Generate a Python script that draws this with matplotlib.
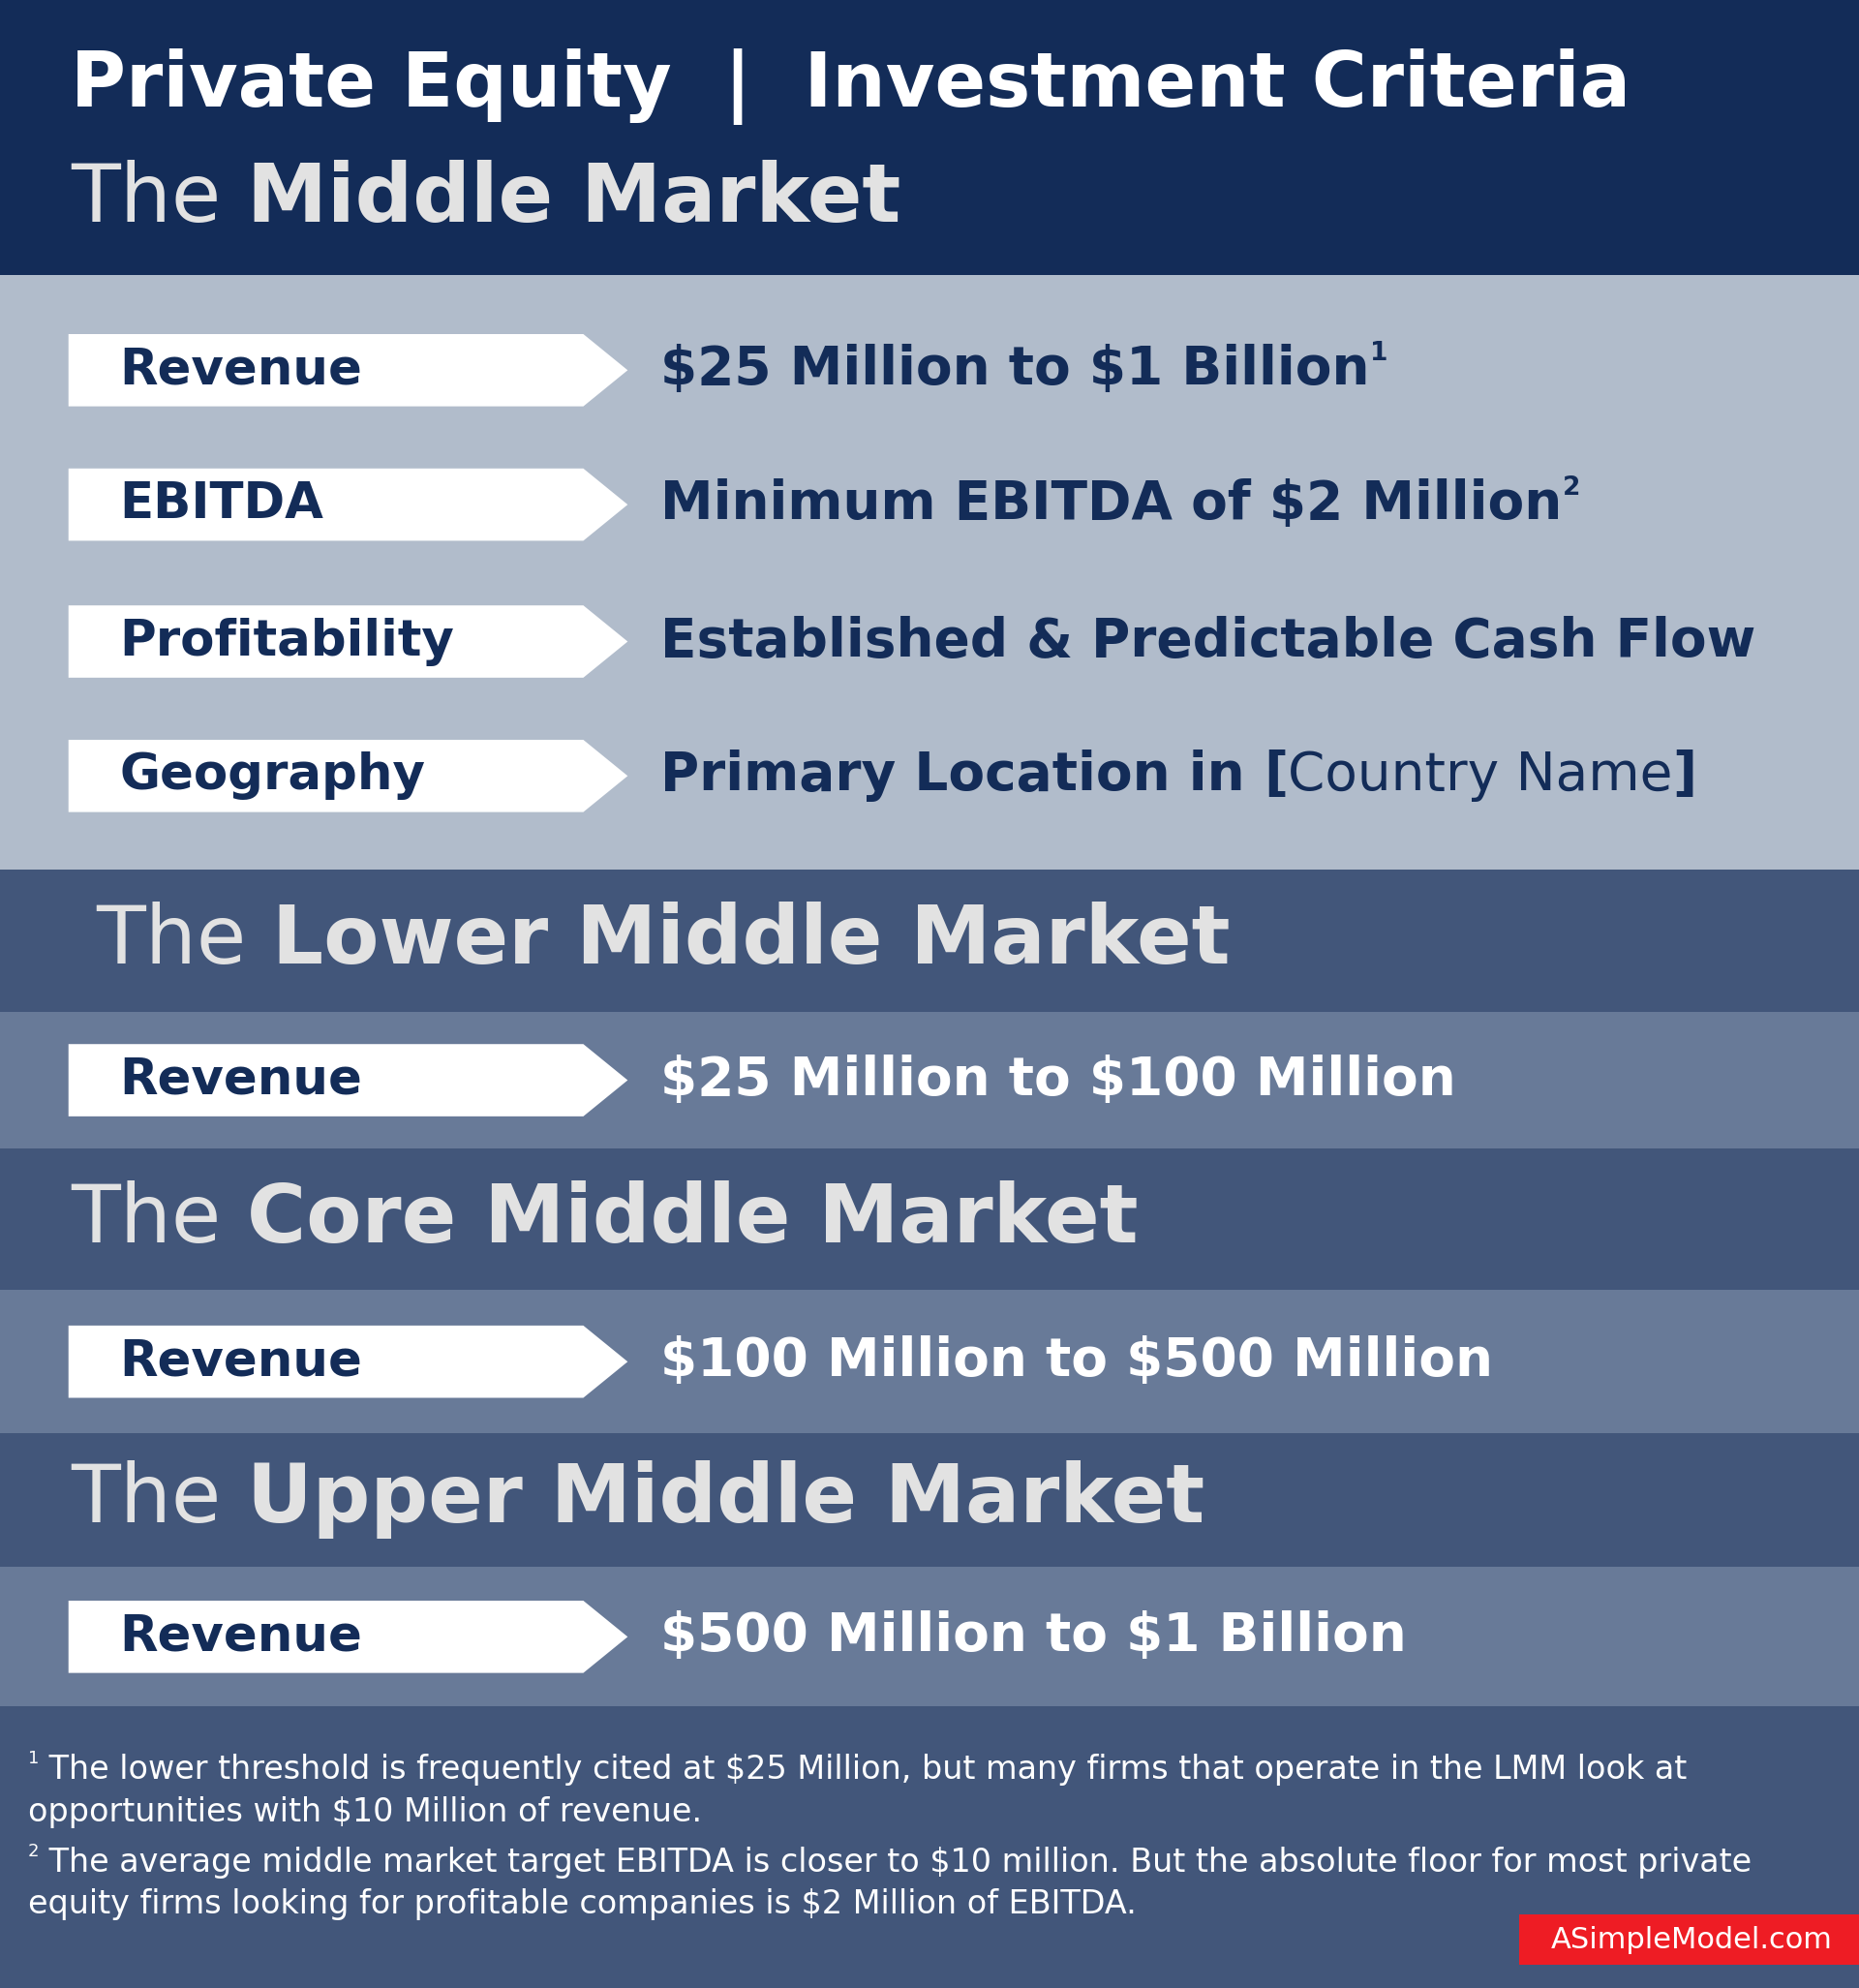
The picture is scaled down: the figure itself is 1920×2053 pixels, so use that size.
import matplotlib
matplotlib.use("Agg")
import matplotlib.pyplot as plt
from matplotlib.patches import Rectangle, Polygon
plt.rcParams["text.parse_math"] = False

W, H = 1466, 1568
FONT = "DejaVu Sans"
NAVY = "#132c58"
LIGHT = "#b1bccb"
MID = "#42567a"
ROWC = "#687a98"
TITLEC = "#e2e2e2"

mm_labels = ["Revenue", "EBITDA", "Profitability", "Geography"]
mm_values = ["$25 Million to $1 Billion", "Minimum EBITDA of $2 Million",
             "Established & Predictable Cash Flow", "Primary Location in "]
mm_sups = ["1", "2", "", ""]
seg_titles = ["Lower Middle Market", "Core Middle Market", "Upper Middle Market"]
seg_values = ["$25 Million to $100 Million", "$100 Million to $500 Million",
              "$500 Million to $1 Billion"]
footnotes = [("1", "The lower threshold is frequently cited at $25 Million, but many firms that operate in the LMM look at",
              "opportunities with $10 Million of revenue."),
             ("2", "The average middle market target EBITDA is closer to $10 million. But the absolute floor for most private",
              "equity firms looking for profitable companies is $2 Million of EBITDA.")]

fig = plt.figure(figsize=(19.2, 20.53), dpi=100)
ax = fig.add_axes([0, 0, 1, 1])
ax.set_xlim(0, W); ax.set_ylim(H, 0); ax.axis("off")
fig.canvas.draw()
R = fig.canvas.get_renderer()

def band(y0, y1, c):
    ax.add_patch(Rectangle((0, y0), W, y1 - y0, color=c, lw=0))

def seq(x, y, parts, va="center"):
    for t, s, w, c, dy in parts:
        tx = ax.text(x, y + dy, t, fontsize=s, fontweight=w, color=c, family=FONT, va=va, ha="left")
        bb = tx.get_window_extent(R)
        x += bb.width * W / fig.bbox.width
    return x

VS = 39.5
def arrow(yc, label, value, vcolor, sup=""):
    h = 57
    ax.add_patch(Polygon([(54, yc - h/2), (460, yc - h/2), (495, yc), (460, yc + h/2), (54, yc + h/2)],
                         closed=True, color="white", lw=0))
    ax.text(94, yc, label, fontsize=37, fontweight="bold", color=NAVY, family=FONT, va="center")
    parts = [(value, VS, "bold", vcolor, 0)]
    if sup:
        parts.append((sup, 19, "bold", vcolor, -13))
    return seq(521, yc, parts)

band(0, 217, NAVY)
band(217, 686, LIGHT)
band(686, 798, MID); band(798, 906, ROWC)
band(906, 1017, MID); band(1017, 1130, ROWC)
band(1130, 1236, MID); band(1236, 1346, ROWC)
band(1346, H, MID)

ax.text(56, 68, "Private Equity  |  Investment Criteria", fontsize=56, fontweight="bold",
        color="white", family=FONT, va="center")
seq(56, 157, [("The ", 60, "normal", TITLEC, 0), ("Middle Market", 60, "bold", TITLEC, 0)])

ycs = [292, 398, 506, 612]
for i, (l, v, s) in enumerate(zip(mm_labels, mm_values, mm_sups)):
    x = arrow(ycs[i], l, v, NAVY, s)
    if i == 3:
        seq(x, ycs[i], [("[", VS, "bold", NAVY, 0), ("Country Name", VS, "normal", NAVY, 0),
                        ("]", VS, "bold", NAVY, 0)])

tys = [742, 962, 1183]
txs = [76, 56, 56]
rys = [852, 1074, 1291]
for t, v, ty, tx, ry in zip(seg_titles, seg_values, tys, txs, rys):
    seq(tx, ty, [("The ", 60, "normal", TITLEC, 0), (t, 60, "bold", TITLEC, 0)])
    arrow(ry, "Revenue", v, "white")

fy = [1396, 1469]
for (n, l1, l2), y in zip(footnotes, fy):
    seq(22, y, [(n, 13, "normal", "white", -9), (" " + l1, 24, "normal", "white", 0)])
    ax.text(22, y + 33, l2, fontsize=24, color="white", family=FONT, va="center")

ax.add_patch(Rectangle((1198, 1510), W - 1198, 40, color="#ee1c24", lw=0))
ax.text(1334, 1530, "ASimpleModel.com", fontsize=22, color="white", family=FONT, va="center", ha="center")

fig.savefig("out.png", dpi=100)
